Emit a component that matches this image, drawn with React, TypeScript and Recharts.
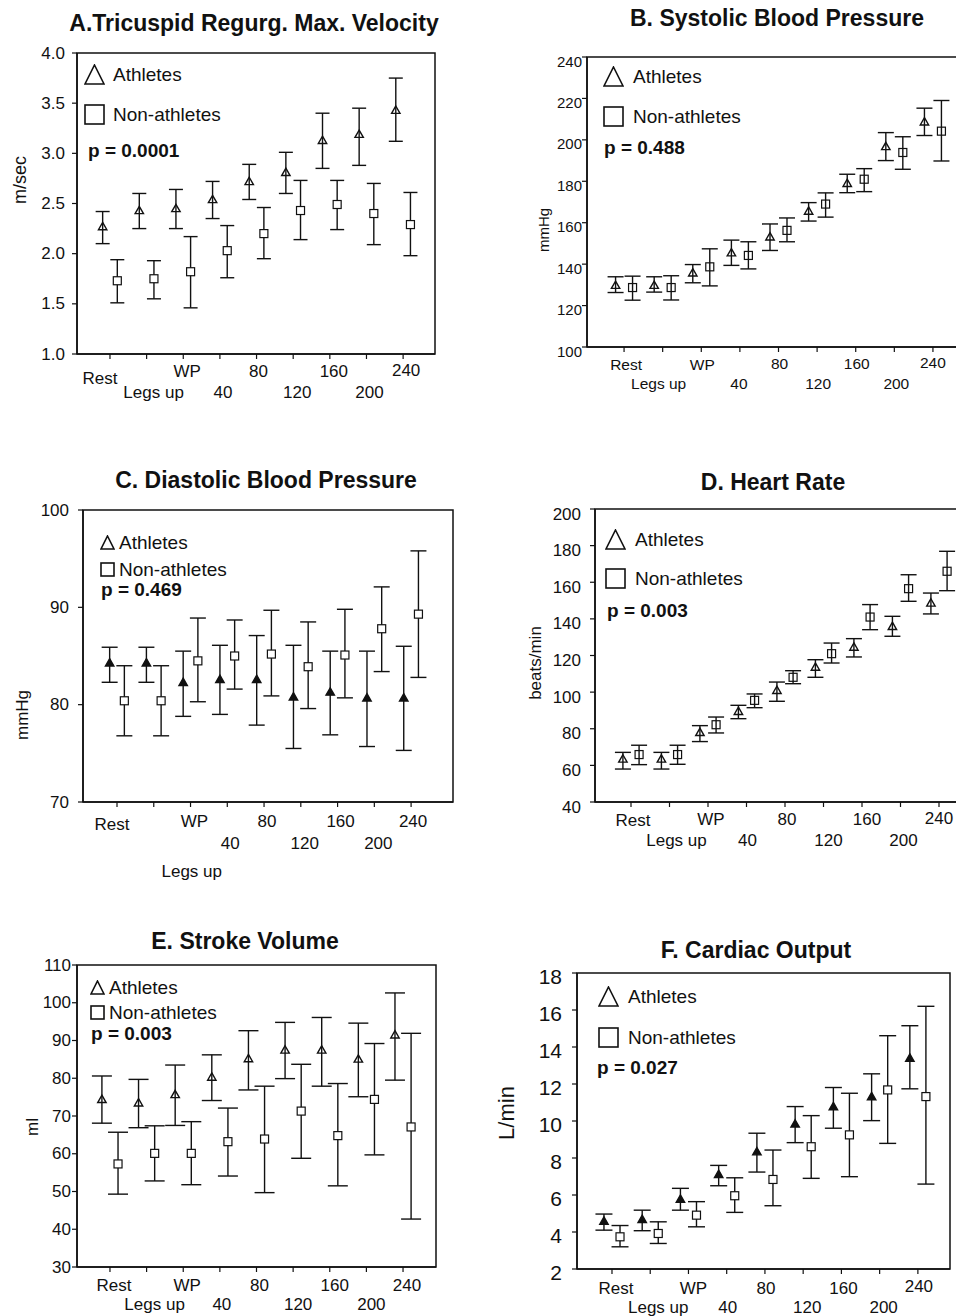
import React from "react";
import { ScatterChart, Scatter, XAxis, YAxis, ErrorBar, ReferenceArea } from "recharts";

const FONT = '"Liberation Sans", Arial, Helvetica, sans-serif';
const INK = "#111";

const stages = ["Rest", "Legs up", "WP", "40", "80", "120", "160", "200", "240"];
const stageIndex = [1, 2, 3, 4, 5, 6, 7, 8, 9];

// A. tricuspid regurgitation max velocity, m/sec
const trvAthMean = [2.27, 2.43, 2.45, 2.54, 2.72, 2.81, 3.13, 3.19, 3.43];
const trvAthLow = [2.1, 2.25, 2.25, 2.35, 2.54, 2.6, 2.85, 2.88, 3.12];
const trvAthHigh = [2.42, 2.6, 2.64, 2.72, 2.89, 3.01, 3.4, 3.45, 3.75];
const trvNonMean = [1.73, 1.75, 1.82, 2.03, 2.2, 2.43, 2.49, 2.4, 2.29];
const trvNonLow = [1.51, 1.55, 1.46, 1.76, 1.95, 2.14, 2.24, 2.09, 1.98];
const trvNonHigh = [1.94, 1.93, 2.17, 2.28, 2.46, 2.73, 2.73, 2.7, 2.61];

// B. systolic blood pressure, mmHg
const sbpAthMean = [129.8, 129.8, 135.8, 145.5, 153.2, 165.6, 179.0, 196.8, 208.7];
const sbpAthLow = [126.3, 126.5, 131.0, 139.4, 146.6, 160.8, 174.5, 190.0, 202.1];
const sbpAthHigh = [133.9, 133.9, 139.8, 151.6, 159.4, 169.7, 183.4, 203.5, 215.3];
const sbpNonMean = [128.7, 128.7, 138.7, 144.2, 156.3, 169.0, 181.0, 193.9, 204.2];
const sbpNonLow = [122.6, 122.7, 129.5, 137.7, 150.8, 162.7, 175.0, 185.8, 189.8];
const sbpNonHigh = [134.2, 134.4, 147.4, 150.8, 162.3, 174.4, 186.1, 201.5, 219.0];

// C. diastolic blood pressure, mmHg
const dbpAthMean = [84.3, 84.3, 82.3, 82.6, 82.6, 80.8, 81.3, 80.7, 80.7];
const dbpAthLow = [82.3, 82.3, 78.8, 79.0, 77.9, 75.5, 76.9, 75.7, 75.3];
const dbpAthHigh = [85.9, 85.9, 85.5, 86.1, 87.1, 86.1, 85.5, 85.5, 86.0];
const dbpNonMean = [80.4, 80.4, 84.5, 85.0, 85.2, 83.9, 85.1, 87.8, 89.3];
const dbpNonLow = [76.8, 76.8, 80.3, 81.6, 80.9, 79.6, 80.7, 83.4, 82.8];
const dbpNonHigh = [84.0, 84.0, 88.9, 88.7, 89.7, 88.5, 89.8, 92.1, 95.8];

// D. heart rate, beats/min
const hrAthMean = [63.5, 63.5, 78.0, 89.5, 101.0, 113.7, 124.6, 135.9, 148.7];
const hrAthLow = [58.0, 58.0, 73.0, 85.5, 95.0, 108.1, 119.2, 130.5, 142.7];
const hrAthHigh = [67.1, 67.1, 81.7, 92.8, 105.5, 117.7, 129.2, 141.4, 154.1];
const hrNonMean = [65.9, 65.9, 82.2, 95.5, 108.1, 121.0, 141.0, 156.5, 166.0];
const hrNonLow = [60.4, 60.6, 77.7, 91.5, 104.6, 115.9, 134.1, 149.6, 155.4];
const hrNonHigh = [71.0, 71.0, 86.4, 99.0, 111.7, 126.8, 147.8, 164.1, 176.9];

// E. stroke volume, ml
const svAthMean = [74.4, 73.5, 75.7, 80.3, 85.2, 87.5, 87.5, 85.1, 91.5];
const svAthLow = [68.1, 66.9, 67.5, 74.1, 76.9, 79.9, 77.9, 75.1, 79.5];
const svAthHigh = [80.6, 79.7, 83.5, 86.2, 92.6, 94.8, 96.1, 94.6, 102.6];
const svNonMean = [57.3, 60.1, 60.1, 63.2, 63.9, 71.3, 64.8, 74.4, 67.1];
const svNonLow = [49.3, 52.8, 51.8, 54.1, 49.7, 58.8, 51.5, 59.7, 42.7];
const svNonHigh = [65.7, 67.4, 68.5, 72.1, 77.9, 83.7, 78.6, 89.2, 91.9];

// F. cardiac output, L/min
const coAthMean = [4.59, 4.68, 5.78, 7.12, 8.34, 9.84, 10.78, 11.32, 13.4];
const coAthLow = [4.1, 4.07, 5.18, 6.5, 7.24, 8.83, 9.61, 10.02, 11.74];
const coAthHigh = [4.97, 5.18, 6.36, 7.6, 9.34, 10.78, 11.81, 12.55, 15.15];
const coNonMean = [3.74, 3.92, 4.91, 5.96, 6.84, 8.61, 9.25, 11.68, 11.32];
const coNonLow = [3.2, 3.38, 4.28, 5.06, 5.42, 6.9, 6.99, 8.79, 6.59];
const coNonHigh = [4.35, 4.55, 5.64, 6.93, 8.43, 10.29, 11.5, 14.61, 16.2];

type Pt = { x: number; y: number; err: [number, number] };

function series(mean: number[], low: number[], high: number[], shift: number): Pt[] {
  return stageIndex.map((s, i) => ({
    x: s + shift,
    y: mean[i],
    err: [mean[i] - low[i], high[i] - mean[i]],
  }));
}

const triShape = (fill: string) => (props: any) => {
  const { cx, cy } = props;
  const s = 4.2;
  return (
    <path
      d={`M${cx},${cy - s} L${cx + s},${cy + s * 0.75} L${cx - s},${cy + s * 0.75} Z`}
      fill={fill}
      stroke={INK}
      strokeWidth={1.4}
    />
  );
};

const sqShape = (fill: string) => (props: any) => {
  const { cx, cy } = props;
  return <rect x={cx - 4} y={cy - 4} width={8} height={8} fill={fill} stroke={INK} strokeWidth={1.2} />;
};

interface PanelProps {
  title: string;
  titleAt: [number, number];
  box: { x: number; y: number; w: number; h: number };
  xDomain: [number, number];
  yDomain: [number, number];
  yTicks: number[];
  decimals: number;
  yFont: number;
  yGap: number;
  yDy: number;
  yLabel: string;
  yLabelAt: [number, number];
  yLabelFont: number;
  xFont: number;
  labelDx: number[];
  labelDy: number[];
  shift: number;
  cap: number;
  triFill: string;
  sqFill: string;
  athMean: number[];
  athLow: number[];
  athHigh: number[];
  nonMean: number[];
  nonLow: number[];
  nonHigh: number[];
  legendX: number;
  legendSize: number;
  textX: number;
  athY: number;
  nonY: number;
  pText: string;
  pAt: [number, number];
}

function LegendTri({ x, y, size }: { x: number; y: number; size: number }) {
  return (
    <svg style={{ position: "absolute", left: x - size / 2, top: y - size / 2 }} width={size} height={size}>
      <path d={`M${size / 2},1 L${size - 1},${size - 1} L1,${size - 1} Z`} fill="none" stroke={INK} strokeWidth={1.6} />
    </svg>
  );
}

function LegendSq({ x, y, size }: { x: number; y: number; size: number }) {
  return (
    <svg style={{ position: "absolute", left: x - size / 2, top: y - size / 2 }} width={size} height={size}>
      <rect x={1} y={1} width={size - 2} height={size - 2} fill="none" stroke={INK} strokeWidth={1.6} />
    </svg>
  );
}

const textStyle = (x: number, y: number, size: number, bold = false): React.CSSProperties => ({
  position: "absolute",
  left: x,
  top: y,
  transform: "translateY(-50%)",
  fontSize: size,
  lineHeight: 1,
  fontFamily: FONT,
  fontWeight: bold ? "bold" : "normal",
  whiteSpace: "nowrap",
  color: INK,
});

function Panel(p: PanelProps) {
  const ML = 75;
  const MT = 12;
  const XH = 95;
  const axisY = MT + p.box.h;
  const ath = series(p.athMean, p.athLow, p.athHigh, -p.shift);
  const non = series(p.nonMean, p.nonLow, p.nonHigh, p.shift);

  const xTick = (t: any) => {
    const i = stageIndex.indexOf(t.payload.value);
    if (i < 0) return <g />;
    return (
      <text
        x={t.x + p.labelDx[i]}
        y={axisY + p.labelDy[i]}
        textAnchor="middle"
        dominantBaseline="central"
        fontSize={p.xFont}
        fontFamily={FONT}
        fill={INK}
      >
        {stages[i]}
      </text>
    );
  };

  const yTick = (t: any) => (
    <text
      x={ML - p.yGap}
      y={t.y + p.yDy}
      textAnchor="end"
      dominantBaseline="central"
      fontSize={p.yFont}
      fontFamily={FONT}
      fill={INK}
    >
      {Number(t.payload.value).toFixed(p.decimals)}
    </text>
  );

  return (
    <>
      <div
        style={{
          position: "absolute",
          left: p.titleAt[0],
          top: p.titleAt[1],
          transform: "translate(-50%, -50%)",
          fontSize: 23,
          fontWeight: "bold",
          fontFamily: FONT,
          whiteSpace: "nowrap",
          color: INK,
          lineHeight: 1,
        }}
      >
        {p.title}
      </div>
      <div
        style={{
          position: "absolute",
          left: p.yLabelAt[0],
          top: p.yLabelAt[1],
          transform: "translate(-50%, -50%) rotate(-90deg)",
          fontSize: p.yLabelFont,
          fontFamily: FONT,
          whiteSpace: "nowrap",
          color: INK,
          lineHeight: 1,
        }}
      >
        {p.yLabel}
      </div>
      <div style={{ position: "absolute", left: p.box.x - ML, top: p.box.y - MT }}>
        <ScatterChart
          width={p.box.w + ML + 20}
          height={p.box.h + MT + XH}
          margin={{ top: MT, right: 20, bottom: 0, left: 0 }}
        >
          <XAxis
            type="number"
            dataKey="x"
            domain={p.xDomain}
            ticks={stageIndex}
            interval={0}
            allowDataOverflow
            height={XH}
            tickSize={5}
            tick={xTick}
            axisLine={{ stroke: INK, strokeWidth: 1.5 }}
            tickLine={{ stroke: INK, strokeWidth: 1.2 }}
          />
          <YAxis
            type="number"
            dataKey="y"
            domain={p.yDomain}
            ticks={p.yTicks}
            interval={0}
            allowDataOverflow
            width={ML}
            tickSize={5}
            tick={yTick}
            axisLine={{ stroke: INK, strokeWidth: 1.5 }}
            tickLine={{ stroke: INK, strokeWidth: 1.2 }}
          />
          <ReferenceArea
            x1={p.xDomain[0]}
            x2={p.xDomain[1]}
            y1={p.yDomain[0]}
            y2={p.yDomain[1]}
            fill="none"
            stroke={INK}
            strokeWidth={1.5}
            ifOverflow="visible"
          />
          <Scatter data={ath} shape={triShape(p.triFill)} isAnimationActive={false}>
            <ErrorBar dataKey="err" direction="y" width={p.cap} stroke={INK} strokeWidth={1.4} isAnimationActive={false} />
          </Scatter>
          <Scatter data={non} shape={sqShape(p.sqFill)} isAnimationActive={false}>
            <ErrorBar dataKey="err" direction="y" width={p.cap} stroke={INK} strokeWidth={1.4} isAnimationActive={false} />
          </Scatter>
        </ScatterChart>
      </div>
      <LegendTri x={p.legendX} y={p.athY} size={p.legendSize} />
      <div style={textStyle(p.textX, p.athY, 19)}>Athletes</div>
      <LegendSq x={p.legendX} y={p.nonY} size={p.legendSize} />
      <div style={textStyle(p.textX, p.nonY, 19)}>Non-athletes</div>
      <div style={textStyle(p.pAt[0], p.pAt[1], 19, true)}>{p.pText}</div>
    </>
  );
}

const panels: PanelProps[] = [
  {
    title: "A.Tricuspid Regurg. Max. Velocity",
    titleAt: [254, 23],
    box: { x: 77, y: 53, w: 358, h: 301 },
    xDomain: [0.1, 9.87],
    yDomain: [1, 4],
    yTicks: [1, 1.5, 2, 2.5, 3, 3.5, 4],
    decimals: 1,
    yFont: 17,
    yGap: 12,
    yDy: 0,
    yLabel: "m/sec",
    yLabelAt: [20, 180],
    yLabelFont: 18,
    xFont: 17,
    labelDx: [-10, 7, 4, 3, 2, 4, 4, 3, 3],
    labelDy: [24, 38, 17, 38, 17, 38, 17, 38, 16],
    shift: 0.2,
    cap: 7,
    triFill: "none",
    sqFill: "#fff",
    athMean: trvAthMean,
    athLow: trvAthLow,
    athHigh: trvAthHigh,
    nonMean: trvNonMean,
    nonLow: trvNonLow,
    nonHigh: trvNonHigh,
    legendX: 94,
    legendSize: 21,
    textX: 113,
    athY: 74,
    nonY: 114,
    pText: "p = 0.0001",
    pAt: [88, 150],
  },
  {
    title: "B. Systolic Blood Pressure",
    titleAt: [777, 18],
    box: { x: 587, y: 57, w: 383, h: 290 },
    xDomain: [0.04, 9.96],
    yDomain: [100, 240],
    yTicks: [100, 120, 140, 160, 180, 200, 220, 240],
    decimals: 0,
    yFont: 15,
    yGap: 5,
    yDy: 4,
    yLabel: "mmHg",
    yLabelAt: [543, 230],
    yLabelFont: 15,
    xFont: 15.5,
    labelDx: [2, -4, 1, -1, 1, 1, 1, 2, 0],
    labelDy: [17, 36, 17, 36, 16, 36, 16, 36, 15],
    shift: 0.22,
    cap: 8,
    triFill: "none",
    sqFill: "none",
    athMean: sbpAthMean,
    athLow: sbpAthLow,
    athHigh: sbpAthHigh,
    nonMean: sbpNonMean,
    nonLow: sbpNonLow,
    nonHigh: sbpNonHigh,
    legendX: 613,
    legendSize: 21,
    textX: 633,
    athY: 76,
    nonY: 116,
    pText: "p = 0.488",
    pAt: [604, 147],
  },
  {
    title: "C. Diastolic Blood Pressure",
    titleAt: [266, 480],
    box: { x: 83, y: 510, w: 370, h: 292 },
    xDomain: [0.075, 10.14],
    yDomain: [70, 100],
    yTicks: [70, 80, 90, 100],
    decimals: 0,
    yFont: 17,
    yGap: 14,
    yDy: 0,
    yLabel: "mmHg",
    yLabelAt: [22, 715],
    yLabelFont: 17,
    xFont: 17,
    labelDx: [-5, 38, 4, 3, 3, 4, 3, 4, 2],
    labelDy: [22, 69, 19, 41, 19, 41, 19, 41, 19],
    shift: 0.2,
    cap: 8,
    triFill: INK,
    sqFill: "#fff",
    athMean: dbpAthMean,
    athLow: dbpAthLow,
    athHigh: dbpAthHigh,
    nonMean: dbpNonMean,
    nonLow: dbpNonLow,
    nonHigh: dbpNonHigh,
    legendX: 107,
    legendSize: 15,
    textX: 119,
    athY: 542,
    nonY: 569,
    pText: "p = 0.469",
    pAt: [101, 589],
  },
  {
    title: "D. Heart Rate",
    titleAt: [773, 482],
    box: { x: 595, y: 509, w: 380, h: 293 },
    xDomain: [0.065, 9.935],
    yDomain: [40, 200],
    yTicks: [40, 60, 80, 100, 120, 140, 160, 180, 200],
    decimals: 0,
    yFont: 17,
    yGap: 14,
    yDy: 5,
    yLabel: "beats/min",
    yLabelAt: [535, 663],
    yLabelFont: 17,
    xFont: 17,
    labelDx: [2, 7, 3, 1, 2, 5, 5, 3, 0],
    labelDy: [18, 38, 17, 38, 17, 38, 17, 38, 16],
    shift: 0.21,
    cap: 8,
    triFill: "none",
    sqFill: "none",
    athMean: hrAthMean,
    athLow: hrAthLow,
    athHigh: hrAthHigh,
    nonMean: hrNonMean,
    nonLow: hrNonLow,
    nonHigh: hrNonHigh,
    legendX: 615,
    legendSize: 21,
    textX: 635,
    athY: 539,
    nonY: 578,
    pText: "p = 0.003",
    pAt: [607, 610],
  },
  {
    title: "E. Stroke Volume",
    titleAt: [245, 941],
    box: { x: 77, y: 965, w: 359, h: 302 },
    xDomain: [0.1, 9.9],
    yDomain: [30, 110],
    yTicks: [30, 40, 50, 60, 70, 80, 90, 100, 110],
    decimals: 0,
    yFont: 17,
    yGap: 6,
    yDy: 0,
    yLabel: "ml",
    yLabelAt: [32, 1127],
    yLabelFont: 17,
    xFont: 17,
    labelDx: [4, 8, 4, 2, 3, 5, 5, 5, 4],
    labelDy: [18, 37, 18, 37, 18, 37, 18, 37, 18],
    shift: 0.22,
    cap: 10,
    triFill: "none",
    sqFill: "#fff",
    athMean: svAthMean,
    athLow: svAthLow,
    athHigh: svAthHigh,
    nonMean: svNonMean,
    nonLow: svNonLow,
    nonHigh: svNonHigh,
    legendX: 97,
    legendSize: 15,
    textX: 109,
    athY: 987,
    nonY: 1012,
    pText: "p = 0.003",
    pAt: [91, 1033],
  },
  {
    title: "F. Cardiac Output",
    titleAt: [756, 950],
    box: { x: 577, y: 973, w: 373, h: 296 },
    xDomain: [0.085, 9.84],
    yDomain: [2, 18],
    yTicks: [2, 4, 6, 8, 10, 12, 14, 16, 18],
    decimals: 0,
    yFont: 21,
    yGap: 15,
    yDy: 3,
    yLabel: "L/min",
    yLabelAt: [507, 1113],
    yLabelFont: 22,
    xFont: 17,
    labelDx: [4, 8, 5, 1, 1, 4, 2, 4, 1],
    labelDy: [19, 38, 19, 38, 19, 38, 19, 38, 17],
    shift: 0.21,
    cap: 8.5,
    triFill: INK,
    sqFill: "#fff",
    athMean: coAthMean,
    athLow: coAthLow,
    athHigh: coAthHigh,
    nonMean: coNonMean,
    nonLow: coNonLow,
    nonHigh: coNonHigh,
    legendX: 608,
    legendSize: 21,
    textX: 628,
    athY: 996,
    nonY: 1037,
    pText: "p = 0.027",
    pAt: [597, 1067],
  },
];

export default function App() {
  return (
    <div
      style={{
        position: "absolute",
        left: 0,
        top: 0,
        width: 956,
        height: 1316,
        overflow: "hidden",
        background: "#fff",
      }}
    >
      {panels.map((p) => (
        <Panel key={p.title} {...p} />
      ))}
    </div>
  );
}
